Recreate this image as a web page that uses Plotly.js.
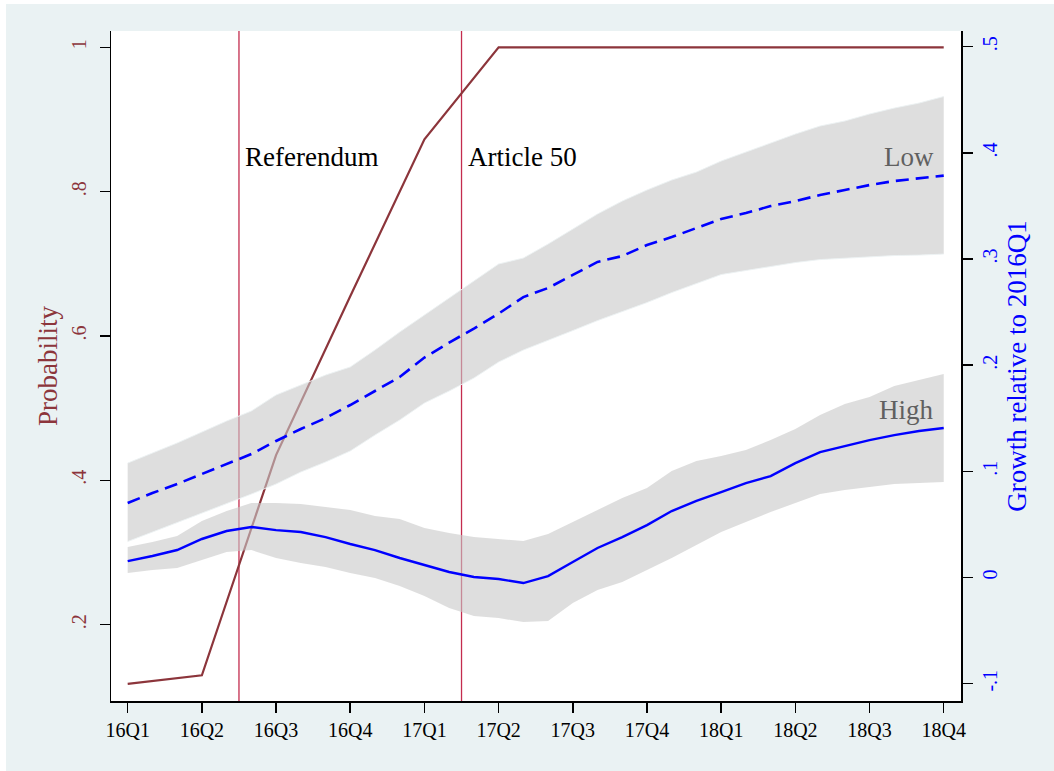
<!DOCTYPE html>
<html>
<head>
<meta charset="utf-8">
<script src="https://cdn.plot.ly/plotly-3.0.1.min.js"></script>
<style>
  html, body { margin: 0; padding: 0; background: #ffffff; }
  #chart { position: absolute; left: 6px; top: 4px; width: 1048px; height: 767px; }
</style>
</head>
<body>
<div id="chart"></div>
<script>
// Quarter tick labels (x = quarter index, 0 = 2016Q1)
const quarterLabels = ["16Q1","16Q2","16Q3","16Q4","17Q1","17Q2","17Q3","17Q4","18Q1","18Q2","18Q3","18Q4"];
const quarterIdx = [0,1,2,3,4,5,6,7,8,9,10,11];

// Probability (left axis), one value per quarter
const probability = [0.118, 0.130, 0.435, 0.655, 0.8725, 1, 1, 1, 1, 1, 1, 1];

// Monthly x positions, in quarter units
const months = [0,1/3,2/3,1,4/3,5/3,2,7/3,8/3,3,10/3,11/3,4,13/3,14/3,5,16/3,17/3,6,19/3,20/3,7,22/3,23/3,8,25/3,26/3,9,28/3,29/3,10,31/3,32/3,11];

// Growth relative to 2016Q1 (right axis)
const lowGrowth  = [0.0702,0.0796,0.0881,0.0975,0.1069,0.1163,0.1286,0.1399,0.1502,0.1625,0.1757,0.1889,0.2072,0.2213,0.2345,0.2486,0.2642,0.2727,0.2850,0.2973,0.3028,0.3132,0.3207,0.3292,0.3377,0.3433,0.3499,0.3546,0.3603,0.3650,0.3697,0.3735,0.3763,0.3786];
const lowUpper   = [0.1078,0.1173,0.1267,0.1370,0.1474,0.1568,0.1719,0.1813,0.1907,0.1983,0.2143,0.2312,0.2472,0.2633,0.2793,0.2953,0.3009,0.3141,0.3282,0.3424,0.3546,0.3650,0.3744,0.3819,0.3923,0.4007,0.4092,0.4177,0.4253,0.4300,0.4366,0.4422,0.4469,0.4531];
const lowLower   = [0.0339,0.0429,0.0513,0.0607,0.0692,0.0786,0.0881,0.0994,0.1088,0.1192,0.1342,0.1484,0.1644,0.1757,0.1879,0.2030,0.2143,0.2232,0.2326,0.2420,0.2505,0.2590,0.2684,0.2769,0.2854,0.2892,0.2930,0.2967,0.2995,0.3009,0.3023,0.3033,0.3037,0.3047];

const highGrowth = [0.0155,0.0203,0.0259,0.0363,0.0438,0.0476,0.0447,0.0429,0.0381,0.0316,0.0259,0.0184,0.0118,0.0052,0.0005,-0.0014,-0.0052,0.0014,0.0146,0.0278,0.0381,0.0494,0.0626,0.0721,0.0805,0.0890,0.0956,0.1078,0.1182,0.1239,0.1295,0.1342,0.1380,0.1409];
const highUpper  = [0.0287,0.0334,0.0391,0.0532,0.0626,0.0702,0.0702,0.0692,0.0664,0.0636,0.0579,0.0551,0.0466,0.0419,0.0381,0.0363,0.0344,0.0410,0.0523,0.0636,0.0749,0.0843,0.1003,0.1097,0.1144,0.1201,0.1295,0.1399,0.1531,0.1634,0.1700,0.1804,0.1860,0.1917];
const highLower  = [0.0042,0.0071,0.0089,0.0165,0.0240,0.0259,0.0184,0.0137,0.0099,0.0042,-0.0005,-0.0080,-0.0174,-0.0287,-0.0363,-0.0382,-0.0419,-0.0410,-0.0240,-0.0118,-0.0042,0.0071,0.0184,0.0306,0.0429,0.0523,0.0617,0.0702,0.0786,0.0824,0.0852,0.0881,0.0890,0.0900];

// Events (vertical lines)
const eventNames = ["Referendum", "Article 50"];
const eventX = [1.5, 4.5];

// Label texts
const seriesLabels = ["Low", "High"];
const seriesLabelY = [0.396, 0.158];
const eventLabelY = 0.396;

const serif = '"Liberation Serif", "Times New Roman", Times, serif';
const maroon = '#8C353B';
const crimson = '#C42C4E';
const bandFill = 'rgba(200,200,200,0.6)';
const bandEdge = 'rgba(236,242,243,0.9)';

const traces = [
  { x: quarterIdx, y: probability, type: 'scatter', mode: 'lines', yaxis: 'y',
    line: { color: maroon, width: 2.2 }, hoverinfo: 'skip' },
  { x: months, y: lowLower, type: 'scatter', mode: 'lines', yaxis: 'y2',
    line: { color: bandEdge, width: 1 }, hoverinfo: 'skip' },
  { x: months, y: lowUpper, type: 'scatter', mode: 'lines', yaxis: 'y2', fill: 'tonexty',
    fillcolor: bandFill, line: { color: bandEdge, width: 1 }, hoverinfo: 'skip' },
  { x: months, y: highLower, type: 'scatter', mode: 'lines', yaxis: 'y2',
    line: { color: 'rgba(0,0,0,0)', width: 0 }, hoverinfo: 'skip' },
  { x: months, y: highUpper, type: 'scatter', mode: 'lines', yaxis: 'y2', fill: 'tonexty',
    fillcolor: bandFill, line: { color: 'rgba(0,0,0,0)', width: 0 }, hoverinfo: 'skip' },
  { x: months, y: lowGrowth, type: 'scatter', mode: 'lines', yaxis: 'y2',
    line: { color: '#0000FF', width: 2.6, dash: '13px,7px' } },
  { x: months, y: highGrowth, type: 'scatter', mode: 'lines', yaxis: 'y2',
    line: { color: '#0000FF', width: 2.4 } }
];

const shapes = eventX.map(x => ({
  type: 'line', xref: 'x', yref: 'paper', x0: x, x1: x, y0: 0, y1: 1,
  line: { color: crimson, width: 1.3 }, layer: 'below'
}));

const annotations = eventNames.map((t, i) => ({
  text: t, x: eventX[i], y: eventLabelY, xref: 'x', yref: 'y2',
  xanchor: 'left', yanchor: 'middle', xshift: 4, showarrow: false,
  font: { family: serif, size: 27, color: '#000000' }
})).concat(seriesLabels.map((t, i) => ({
  text: t, x: quarterIdx[quarterIdx.length - 1], y: seriesLabelY[i], xref: 'x', yref: 'y2',
  xanchor: 'right', yanchor: 'middle', xshift: -8, showarrow: false,
  font: { family: serif, size: 27, color: '#606060' }
})));

const layout = {
  width: 1048, height: 767,
  paper_bgcolor: '#EAF2F3', plot_bgcolor: '#FFFFFF',
  margin: { l: 105, r: 93, t: 27, b: 70 },
  showlegend: false,
  font: { family: serif, size: 20, color: '#000000' },
  xaxis: {
    range: [-0.225, 11.233], tickmode: 'array', tickvals: quarterIdx, ticktext: quarterLabels,
    showline: true, linecolor: '#000000', linewidth: 1.5, mirror: false,
    ticks: 'outside', ticklen: 10, tickwidth: 1.5, tickcolor: '#000000',
    showgrid: false, zeroline: false,
    tickfont: { family: serif, size: 20, color: '#000000' }
  },
  yaxis: {
    range: [0.0943, 1.0226], tickmode: 'array', tickvals: [0.2, 0.4, 0.6, 0.8, 1], ticktext: ['.2', '.4', '.6', '.8', '1'],
    showline: true, linecolor: '#000000', linewidth: 1.5,
    ticks: 'outside', ticklen: 10, tickwidth: 1.5, tickcolor: '#000000',
    showgrid: false, zeroline: false, tickangle: -90, ticklabelstandoff: 6,
    tickfont: { family: serif, size: 20, color: maroon },
    title: { text: 'Probability', font: { family: serif, size: 27, color: maroon }, standoff: 2 }
  },
  yaxis2: {
    overlaying: 'y', side: 'right',
    range: [-0.1163, 0.5148], tickmode: 'array', tickvals: [-0.1, 0, 0.1, 0.2, 0.3, 0.4, 0.5], ticktext: ['-.1', '0', '.1', '.2', '.3', '.4', '.5'],
    showline: true, linecolor: '#000000', linewidth: 1.5,
    ticks: 'outside', ticklen: 10, tickwidth: 1.5, tickcolor: '#000000',
    showgrid: false, zeroline: false, tickangle: -90,
    tickfont: { family: serif, size: 20, color: '#0000FF' },
    title: { text: 'Growth relative to 2016Q1', font: { family: serif, size: 27, color: '#0000FF' }, standoff: 7 }
  },
  shapes: shapes,
  annotations: annotations
};

Plotly.newPlot('chart', traces, layout, { displayModeBar: false, staticPlot: true });
</script>
</body>
</html>
